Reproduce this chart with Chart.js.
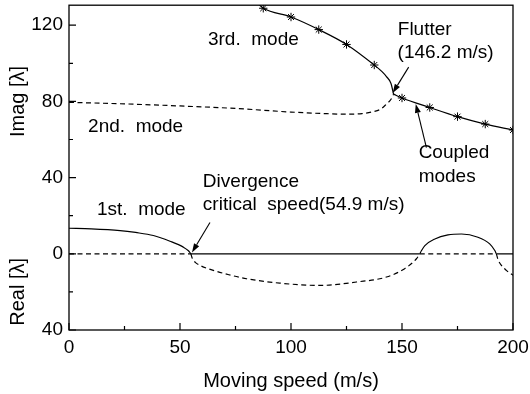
<!DOCTYPE html>
<html>
<head>
<meta charset="utf-8">
<script src="https://cdn.jsdelivr.net/npm/chart.js@4/dist/chart.umd.min.js"></script>
<style>
html,body{margin:0;padding:0;background:#fff;}
#wrap{width:530px;height:394px;position:relative;}
</style>
</head>
<body>
<div id="wrap"><canvas id="c"></canvas></div>
<script>
// ---- data ----
const mode3Speed   = [85, 87.5, 100, 112.5, 125, 137.5, 141, 143, 145, 146.2];
const mode3Imag    = [131.4, 128.9, 124.3, 117.7, 109.9, 99.1, 95.6, 93.0, 89.5, 83.8];
const mode2Speed   = [0, 25, 50, 75, 100, 115, 125, 132, 137, 140.5, 143, 145, 146.2];
const mode2Imag    = [79.5, 78.7, 77.6, 76.3, 74.4, 73.6, 73.3, 73.6, 74.6, 76.0, 78.6, 81.0, 83.8];
const coupledSpeed = [146.2, 150, 162.5, 175, 187.5, 200];
const coupledImag  = [83.8, 81.8, 76.8, 72.0, 68.1, 65.0];
const starSpeed    = [87.5, 100, 112.5, 125, 137.5, 150, 162.5, 175, 187.5, 200];
const starImag     = [128.9, 124.3, 117.7, 109.9, 99.1, 81.8, 76.8, 72.0, 68.1, 65.0];

const mode1Speed   = [0, 10, 23, 30, 38, 45.5, 51.5, 53.8, 54.9];
const mode1Real    = [13.4, 13.1, 12.2, 11.2, 9.6, 6.6, 3.5, 1.6, 0];
const negSpeed     = [54.9, 55.6, 57, 59, 65, 72, 80, 95, 113, 129.5, 143, 151.2, 156.5, 158];
const negReal      = [0, -2.6, -4.6, -6.1, -8.7, -11.0, -13.1, -15.4, -16.6, -14.8, -12.2, -7.8, -2.6, 0];
const humpSpeed    = [158, 158.8, 160.3, 164.8, 170.7, 176.8, 184.2, 189.5, 191.8, 192.5];
const humpReal     = [0, 1.7, 4.3, 7.8, 9.9, 10.4, 8.7, 5.2, 1.7, 0];
const tailSpeed    = [192.5, 193.3, 194.8, 197, 200];
const tailReal     = [0, -3.2, -6.1, -8.7, -11.3];
const zeroDashSegs = [[0, 54.9], [158, 192.5]];
const zeroSolidSegs= [[54.9, 158], [192.5, 200]];

const xTicksMajor = [0, 50, 100, 150, 200];
const xTicksMinor = [25, 75, 125, 175];
const yTicksMajor = [-40, 0, 40, 80, 120];
const yTicksMinor = [-20, 20, 60, 100];

const annotations = [
  {text: '3rd.  mode', x: 62.6, y: 112.2},
  {text: '2nd.  mode', x: 8.6, y: 66.7},
  {text: 'Flutter', x: 148.1, y: 117.4},
  {text: '(146.2 m/s)', x: 148.0, y: 105.4},
  {text: 'Coupled', x: 157.5, y: 53.1},
  {text: 'modes', x: 157.5, y: 40.5},
  {text: 'Divergence', x: 60.3, y: 37.9},
  {text: 'critical  speed(54.9 m/s)', x: 60.3, y: 25.9},
  {text: '1st.  mode', x: 12.6, y: 23.2}
];
const arrows = [
  {from: [153.0, 98.0], to: [145.8, 84.4]},
  {from: [161.0, 55.7], to: [156.2, 78.7]},
  {from: [63.5, 16.4], to: [55.4, 0.7]}
];

// ---- helpers ----
function pts(xs, ys){ return xs.map((x,i)=>({x:x, y:ys[i]})); }
const FONT = '"Liberation Sans", Arial, sans-serif';
const DASH = [5, 3.5];
function lineDs(data, dashed){
  return {type:'scatter', data:data, showLine:true, borderColor:'#000', borderWidth:1.2,
    borderDash: dashed ? DASH : [], pointRadius:0, pointHoverRadius:0,
    cubicInterpolationMode:'monotone', fill:false, clip:0};
}

const datasets = [
  lineDs(pts(mode3Speed, mode3Imag), false),
  lineDs(pts(mode2Speed, mode2Imag), true),
  lineDs(pts(coupledSpeed, coupledImag), false),
  lineDs(pts(mode1Speed, mode1Real), false),
  lineDs(pts(negSpeed, negReal), true),
  lineDs(pts(humpSpeed, humpReal), false),
  lineDs(pts(tailSpeed, tailReal), true)
];
zeroDashSegs.forEach(s => datasets.push(lineDs(pts(s, [0,0]), true)));
zeroSolidSegs.forEach(s => datasets.push(lineDs(pts(s, [0,0]), false)));
datasets.push({type:'scatter', data: pts(starSpeed, starImag), showLine:false,
  pointStyle:'star', pointRadius:4.2, borderColor:'#000', backgroundColor:'#000',
  pointBorderWidth:1, clip:0});

const decor = {
  id:'decor',
  afterDraw(chart){
    const ctx = chart.ctx, a = chart.chartArea;
    const xs = chart.scales.x, ys = chart.scales.y;
    ctx.save();
    ctx.strokeStyle = '#000'; ctx.lineWidth = 1.3;
    ctx.strokeRect(a.left, a.top, a.right - a.left, a.bottom - a.top);
    ctx.lineWidth = 1.2;
    ctx.beginPath();
    xTicksMajor.forEach(v => { const p = xs.getPixelForValue(v); ctx.moveTo(p, a.bottom); ctx.lineTo(p, a.bottom - 7); });
    xTicksMinor.forEach(v => { const p = xs.getPixelForValue(v); ctx.moveTo(p, a.bottom); ctx.lineTo(p, a.bottom - 4); });
    yTicksMajor.forEach(v => { const p = ys.getPixelForValue(v); ctx.moveTo(a.left, p); ctx.lineTo(a.left + 7, p); });
    yTicksMinor.forEach(v => { const p = ys.getPixelForValue(v); ctx.moveTo(a.left, p); ctx.lineTo(a.left + 4, p); });
    ctx.stroke();

    ctx.fillStyle = '#000';
    ctx.font = '19px ' + FONT;
    ctx.textAlign = 'left'; ctx.textBaseline = 'middle';
    annotations.forEach(t => ctx.fillText(t.text, xs.getPixelForValue(t.x), ys.getPixelForValue(t.y)));

    arrows.forEach(ar => {
      const x1 = xs.getPixelForValue(ar.from[0]), y1 = ys.getPixelForValue(ar.from[1]);
      const x2 = xs.getPixelForValue(ar.to[0]), y2 = ys.getPixelForValue(ar.to[1]);
      const ang = Math.atan2(y2 - y1, x2 - x1);
      const L = 9, W = 3;
      const bx = x2 - L*Math.cos(ang), by = y2 - L*Math.sin(ang);
      ctx.lineWidth = 1.1;
      ctx.beginPath(); ctx.moveTo(x1, y1); ctx.lineTo(bx, by); ctx.stroke();
      ctx.beginPath();
      ctx.moveTo(x2, y2);
      ctx.lineTo(bx + W*Math.sin(ang), by - W*Math.cos(ang));
      ctx.lineTo(bx - W*Math.sin(ang), by + W*Math.cos(ang));
      ctx.closePath(); ctx.fill();
    });

    // axis titles
    ctx.font = '20px ' + FONT;
    ctx.textAlign = 'center'; ctx.textBaseline = 'middle';
    ctx.fillText('Moving speed (m/s)', (a.left + a.right)/2, 381);
    const imagMid = ys.getPixelForValue(80);
    const realMid = ys.getPixelForValue(-20);
    [['Imag [λ]', imagMid], ['Real [λ]', realMid]].forEach(([txt, yc]) => {
      ctx.save(); ctx.translate(18, yc); ctx.rotate(-Math.PI/2);
      ctx.fillText(txt, 0, 0); ctx.restore();
    });
    ctx.restore();
  }
};

function zeroPad(s){ s.paddingTop = 0; s.paddingBottom = 0; s.paddingLeft = 0; s.paddingRight = 0; }

new Chart(document.getElementById('c'), {
  type:'scatter',
  data:{datasets:datasets},
  options:{
    responsive:true, maintainAspectRatio:false, animation:false,
    layout:{padding:{top:5, right:17, left:0, bottom:0}},
    plugins:{legend:{display:false}, tooltip:{enabled:false}},
    events:[],
    scales:{
      x:{type:'linear', min:0, max:200,
        grid:{display:false, drawTicks:false}, border:{display:false},
        ticks:{stepSize:50, color:'#000', font:{size:19, family:FONT}, padding:6},
        afterFit(s){ s.height = 64; zeroPad(s); }
      },
      y:{type:'linear', min:-40, max:130.5,
        grid:{display:false, drawTicks:false}, border:{display:false},
        ticks:{stepSize:20, includeBounds:false, color:'#000', font:{size:19, family:FONT}, padding:6,
          callback(v){ return (v % 40 === 0) ? String(Math.abs(v)) : ''; }},
        afterFit(s){ s.width = 69; zeroPad(s); }
      }
    }
  },
  plugins:[decor]
});
</script>
</body>
</html>
